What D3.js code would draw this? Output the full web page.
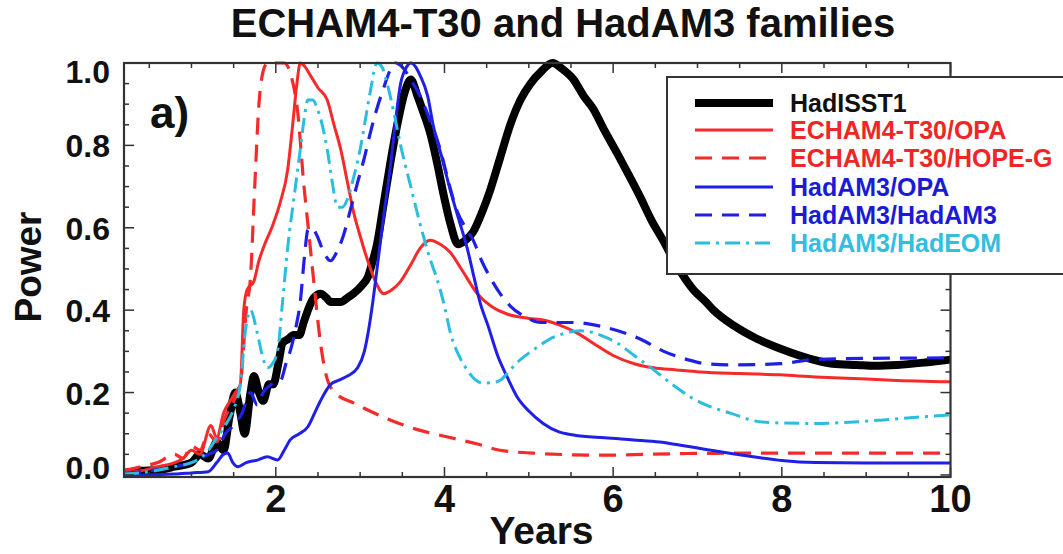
<!DOCTYPE html>
<html><head><meta charset="utf-8">
<script src="https://cdn.jsdelivr.net/npm/d3@7/dist/d3.min.js"></script>
<style>
html,body{margin:0;padding:0;background:#fff;}
text{font-family:"Liberation Sans",Arial,Helvetica,sans-serif;font-weight:bold;}
</style></head>
<body><svg id="chart" width="1063" height="554"></svg>
<script>
const seriesNames = ["HadISST1","ECHAM4-T30/OPA","ECHAM4-T30/HOPE-G","HadAM3/OPA","HadAM3/HadAM3","HadAM3/HadEOM"];
const xTicks = [2,4,6,8,10];
const yTicks = [0.0,0.2,0.4,0.6,0.8,1.0];

const hadisst = [[0.2,0.005],[0.4,0.01],[0.6,0.012],[0.8,0.02],[1.0,0.03],[1.1,0.05],[1.2,0.04],[1.3,0.08],[1.38,0.06],[1.45,0.14],[1.52,0.2],[1.58,0.15],[1.63,0.1],[1.7,0.2],[1.74,0.24],[1.8,0.2],[1.85,0.18],[1.92,0.22],[1.97,0.22],[2.03,0.27],[2.08,0.32],[2.15,0.33],[2.21,0.34],[2.28,0.34],[2.33,0.37],[2.4,0.41],[2.45,0.43],[2.53,0.44],[2.6,0.43],[2.65,0.42],[2.77,0.42],[2.85,0.43],[2.92,0.44],[3.02,0.46],[3.09,0.48],[3.15,0.52],[3.2,0.56],[3.28,0.66],[3.36,0.76],[3.45,0.86],[3.53,0.93],[3.6,0.96],[3.68,0.92],[3.75,0.88],[3.83,0.83],[3.91,0.76],[3.99,0.68],[4.07,0.61],[4.16,0.56],[4.25,0.57],[4.34,0.59],[4.45,0.64],[4.54,0.69],[4.66,0.77],[4.78,0.85],[4.9,0.91],[5.02,0.95],[5.15,0.98],[5.28,1.0],[5.4,0.985],[5.53,0.96],[5.65,0.92],[5.76,0.89],[5.9,0.835],[6.05,0.78],[6.18,0.73],[6.32,0.675],[6.45,0.62],[6.59,0.57],[6.75,0.51],[6.95,0.45],[7.1,0.42],[7.19,0.4],[7.45,0.36],[7.71,0.33],[8.0,0.305],[8.37,0.28],[8.6,0.27],[8.89,0.267],[9.1,0.265],[9.37,0.267],[9.7,0.273],[10,0.28]];

const echamOpa = [[0.2,0.005],[0.4,0.01],[0.6,0.02],[0.8,0.03],[0.9,0.04],[1.0,0.06],[1.1,0.05],[1.23,0.12],[1.3,0.09],[1.38,0.15],[1.46,0.18],[1.52,0.2],[1.58,0.22],[1.62,0.4],[1.66,0.45],[1.74,0.47],[1.8,0.52],[1.85,0.55],[1.97,0.61],[2.05,0.66],[2.14,0.74],[2.2,0.85],[2.25,0.95],[2.29,1.0],[2.35,0.99],[2.41,0.97],[2.5,0.94],[2.61,0.91],[2.69,0.85],[2.77,0.79],[2.85,0.71],[2.92,0.64],[3.0,0.58],[3.09,0.52],[3.18,0.47],[3.28,0.44],[3.38,0.45],[3.48,0.47],[3.6,0.51],[3.71,0.55],[3.83,0.57],[3.95,0.56],[4.07,0.54],[4.2,0.5],[4.39,0.44],[4.55,0.41],[4.75,0.39],[5.0,0.38],[5.17,0.376],[5.35,0.365],[5.57,0.345],[5.8,0.315],[6.0,0.29],[6.25,0.27],[6.48,0.26],[6.75,0.255],[7.03,0.25],[7.5,0.246],[7.98,0.243],[8.4,0.238],[8.77,0.235],[9.3,0.23],[10,0.226]];

const echamHope = [[0.2,0.01],[0.4,0.02],[0.6,0.03],[0.8,0.05],[0.9,0.04],[1.0,0.07],[1.1,0.06],[1.2,0.1],[1.3,0.08],[1.4,0.14],[1.5,0.18],[1.58,0.22],[1.65,0.4],[1.7,0.48],[1.75,0.7],[1.8,0.9],[1.85,0.98],[1.9,1.0],[2.0,1.0],[2.1,1.0],[2.18,0.97],[2.26,0.88],[2.33,0.71],[2.39,0.59],[2.45,0.47],[2.53,0.32],[2.6,0.24],[2.7,0.2],[2.92,0.175],[3.28,0.14],[3.68,0.11],[4.04,0.092],[4.39,0.075],[4.66,0.06],[5.05,0.053],[5.85,0.048],[6.88,0.052],[8.0,0.053],[10,0.053]];

const hadOpa = [[0.2,0.0],[0.5,0.0],[0.8,0.002],[1.0,0.005],[1.2,0.008],[1.3,0.03],[1.38,0.05],[1.43,0.053],[1.49,0.03],[1.55,0.02],[1.65,0.03],[1.78,0.036],[1.9,0.044],[2.02,0.036],[2.1,0.06],[2.17,0.085],[2.28,0.1],[2.38,0.117],[2.46,0.15],[2.53,0.18],[2.65,0.22],[2.75,0.23],[2.85,0.24],[2.97,0.26],[3.05,0.3],[3.09,0.34],[3.15,0.42],[3.2,0.5],[3.28,0.63],[3.36,0.75],[3.42,0.86],[3.48,0.95],[3.55,0.99],[3.6,1.0],[3.66,0.99],[3.71,0.97],[3.8,0.92],[3.87,0.845],[3.97,0.77],[4.07,0.69],[4.17,0.62],[4.27,0.55],[4.35,0.48],[4.42,0.42],[4.52,0.36],[4.63,0.29],[4.75,0.235],[4.86,0.19],[5.0,0.155],[5.17,0.125],[5.35,0.105],[5.53,0.097],[5.9,0.09],[6.24,0.085],[6.55,0.08],[6.8,0.072],[7.1,0.062],[7.4,0.052],[7.7,0.043],[8.0,0.035],[8.4,0.03],[9.0,0.029],[10,0.029]];

const hadHad = [[0.2,0.003],[0.5,0.01],[0.8,0.02],[1.0,0.03],[1.1,0.04],[1.2,0.05],[1.3,0.06],[1.4,0.1],[1.5,0.12],[1.6,0.15],[1.7,0.2],[1.78,0.17],[1.85,0.2],[1.95,0.22],[2.06,0.23],[2.12,0.27],[2.17,0.3],[2.24,0.36],[2.29,0.42],[2.34,0.53],[2.38,0.595],[2.43,0.6],[2.49,0.58],[2.57,0.54],[2.65,0.52],[2.72,0.54],[2.8,0.58],[2.88,0.64],[2.97,0.71],[3.05,0.77],[3.12,0.83],[3.2,0.89],[3.28,0.94],[3.35,0.98],[3.42,1.0],[3.5,0.99],[3.6,0.96],[3.71,0.92],[3.83,0.86],[3.95,0.79],[4.05,0.71],[4.15,0.64],[4.25,0.6],[4.34,0.57],[4.44,0.52],[4.54,0.48],[4.66,0.44],[4.78,0.41],[4.95,0.385],[5.14,0.37],[5.53,0.37],[5.93,0.357],[6.32,0.33],[6.6,0.3],[6.88,0.28],[7.1,0.27],[7.39,0.267],[7.98,0.27],[8.37,0.28],[9.0,0.283],[10,0.284]];

const hadEom = [[0.2,0.002],[0.5,0.008],[0.8,0.02],[1.0,0.03],[1.1,0.04],[1.2,0.06],[1.3,0.09],[1.4,0.12],[1.5,0.16],[1.58,0.22],[1.64,0.35],[1.7,0.4],[1.78,0.345],[1.84,0.29],[1.9,0.26],[1.96,0.27],[2.02,0.3],[2.08,0.42],[2.14,0.55],[2.22,0.68],[2.29,0.79],[2.34,0.87],[2.38,0.91],[2.44,0.91],[2.49,0.89],[2.55,0.85],[2.61,0.79],[2.67,0.71],[2.73,0.65],[2.79,0.65],[2.85,0.67],[2.92,0.72],[3.0,0.79],[3.06,0.86],[3.12,0.93],[3.2,1.0],[3.26,0.99],[3.32,0.95],[3.4,0.88],[3.48,0.8],[3.6,0.7],[3.71,0.61],[3.82,0.53],[3.92,0.47],[4.0,0.41],[4.07,0.345],[4.17,0.29],[4.27,0.255],[4.36,0.232],[4.46,0.223],[4.56,0.224],[4.66,0.23],[4.78,0.255],[4.9,0.28],[5.03,0.3],[5.17,0.32],[5.3,0.335],[5.45,0.345],[5.6,0.35],[5.77,0.345],[5.9,0.335],[6.05,0.32],[6.25,0.29],[6.48,0.255],[6.7,0.22],[6.91,0.19],[7.1,0.17],[7.39,0.15],[7.71,0.13],[8.0,0.126],[8.37,0.125],[8.8,0.128],[9.17,0.133],[9.6,0.14],[10,0.146]];

const seriesData = [hadisst, echamOpa, echamHope, hadOpa, hadHad, hadEom];
const seriesColors = ["#000000","#f52a2a","#f52a2a","#1f1fe6","#1f1fe6","#2bbde0"];
const legendColors = ["#111111","#ee2626","#ee2626","#1b1bd6","#1b1bd6","#33bde0"];
const seriesWidths = [8,3,3.2,3,3.2,3];
const seriesDash = [null,null,"17,10",null,"17,10","15,6,3,6"];

const svg = d3.select("#chart");
svg.append("rect").attr("width",1063).attr("height",554).attr("fill","#fff");

const L=124, R=950.5, T=63, B=477;
const x = d3.scaleLinear().domain([0.2,10]).range([L,R]);
const y = d3.scaleLinear().domain([-0.005,1.0]).range([B,T]);

svg.append("text").attr("x",563).attr("y",37).attr("text-anchor","middle")
  .attr("font-size",40).attr("fill","#111").text("ECHAM4-T30 and HadAM3 families");

const line = d3.line().x(d=>x(d[0])).y(d=>y(d[1])).curve(d3.curveMonotoneX);
seriesData.forEach((s,i)=>{
  svg.append("path").datum(s).attr("d",line).attr("fill","none")
    .attr("stroke",seriesColors[i]).attr("stroke-width",seriesWidths[i])
    .attr("stroke-linejoin","round")
    .attr("stroke-dasharray",seriesDash[i]);
});

const axisColor="#333";
const gAx = svg.append("g");
const yMinor = d3.range(0,1.0001,0.05);
const xMinor = d3.range(0.5,10.0001,0.5);
yMinor.forEach(v=>{
  const major = Math.abs(v*5-Math.round(v*5))<1e-6;
  const len = major?10:5;
  gAx.append("line").attr("x1",L).attr("x2",L+len).attr("y1",y(v)).attr("y2",y(v)).attr("stroke",axisColor).attr("stroke-width",1.5);
  gAx.append("line").attr("x1",R).attr("x2",R-len).attr("y1",y(v)).attr("y2",y(v)).attr("stroke",axisColor).attr("stroke-width",1.5);
});
xMinor.forEach(v=>{
  const major = Math.abs(v/2-Math.round(v/2))<1e-6;
  const len = major?10:5;
  gAx.append("line").attr("x1",x(v)).attr("x2",x(v)).attr("y1",B).attr("y2",B-len).attr("stroke",axisColor).attr("stroke-width",1.5);
  gAx.append("line").attr("x1",x(v)).attr("x2",x(v)).attr("y1",T).attr("y2",T+len).attr("stroke",axisColor).attr("stroke-width",1.5);
});
gAx.append("rect").attr("x",L).attr("y",T).attr("width",R-L).attr("height",B-T)
  .attr("fill","none").attr("stroke",axisColor).attr("stroke-width",2.2);

yTicks.forEach(v=>{
  let yy = y(v)+12;
  if (v===1.0) yy += 8;
  if (v===0.0) yy -= 8;
  svg.append("text").attr("x",110).attr("y",yy).attr("text-anchor","end")
    .attr("font-size",32).attr("fill","#111").text(v.toFixed(1));
});
xTicks.forEach(v=>{
  svg.append("text").attr("x",x(v)).attr("y",512).attr("text-anchor","middle")
    .attr("font-size",38).attr("fill","#111").text(v);
});
svg.append("text").attr("x",x(5.15)).attr("y",544).attr("text-anchor","middle")
  .attr("font-size",39).attr("fill","#111").text("Years");
svg.append("text").attr("transform","translate(41,267) rotate(-90)").attr("text-anchor","middle")
  .attr("font-size",37).attr("fill","#111").text("Power");
svg.append("text").attr("x",150).attr("y",128).attr("font-size",44).attr("fill","#111").text("a)");

const lg = svg.append("g");
lg.append("rect").attr("x",667).attr("y",77).attr("width",400).attr("height",197)
  .attr("fill","#fff").attr("stroke","#333").attr("stroke-width",2);
const rowY = [103,130,158,187,215,243];
seriesNames.forEach((n,i)=>{
  lg.append("line").attr("x1",695).attr("x2",773).attr("y1",rowY[i]).attr("y2",rowY[i])
    .attr("stroke",seriesColors[i]).attr("stroke-width",i===0?8:3.2)
    .attr("stroke-dasharray",seriesDash[i]);
  lg.append("text").attr("x",790).attr("y",rowY[i]+9).attr("font-size",25)
    .attr("fill",legendColors[i]).text(n);
});
</script></body></html>
